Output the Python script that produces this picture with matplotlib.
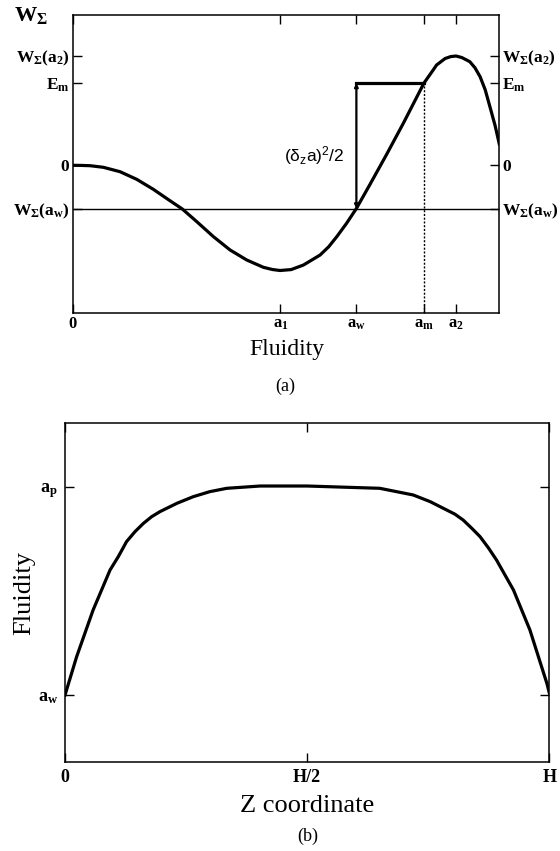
import matplotlib
matplotlib.use("Agg")
import matplotlib.pyplot as plt

plt.rcParams['font.family'] = ['Liberation Serif', 'DejaVu Serif']
plt.rcParams['mathtext.fontset'] = 'custom'
plt.rcParams['mathtext.rm'] = 'Liberation Serif'
plt.rcParams['mathtext.it'] = 'Liberation Serif'
plt.rcParams['mathtext.bf'] = 'Liberation Serif:bold'
plt.rcParams['mathtext.sf'] = 'Liberation Sans'

# (a) free energy W_sigma vs fluidity
a_vals = [0.0, 0.02, 0.041, 0.072, 0.111, 0.150, 0.189, 0.228, 0.257, 0.291,
          0.330, 0.369, 0.408, 0.447, 0.468, 0.486, 0.512, 0.541, 0.580, 0.600,
          0.619, 0.642, 0.665, 0.697, 0.736, 0.775, 0.8235, 0.845, 0.853, 0.873,
          0.886, 0.8985, 0.912, 0.931, 0.943, 0.955, 0.967, 0.978, 0.99, 1.0]
w_vals = [0.0, -0.001, -0.004, -0.02, -0.064, -0.14, -0.24, -0.354, -0.437, -0.564,
          -0.714, -0.847, -0.947, -1.02, -1.042, -1.052, -1.043, -0.997, -0.897, -0.815,
          -0.714, -0.58, -0.432, -0.19, 0.11, 0.42, 0.823, 0.953, 1.003, 1.068,
          1.087, 1.093, 1.078, 1.036, 0.975, 0.886, 0.755, 0.586, 0.40, 0.213]

a1, aw, am, a2 = 0.487, 0.665, 0.8235, 0.8985
W_aw, E_m, W_a2 = -0.432, 0.823, 1.093

xticks_a = [0, a1, aw, am, a2]
xlabels_a = ['0', r'$\mathbf{a_1}$', r'$\mathbf{a_w}$', r'$\mathbf{a_m}$', r'$\mathbf{a_2}$']
yticks_a = [W_aw, 0, E_m, W_a2]
ylabels_a = [r'$\mathbf{W_{\Sigma}(a_w)}$', r'$\mathbf{0}$', r'$\mathbf{E_m}$',
             r'$\mathbf{W_{\Sigma}(a_2)}$']

# (b) fluidity profile across the channel
z_vals = [0.0, 0.024, 0.058, 0.093, 0.110, 0.127, 0.1445, 0.162, 0.179, 0.196,
          0.231, 0.265, 0.299, 0.334, 0.403, 0.5, 0.650, 0.719, 0.754, 0.788,
          0.805, 0.822, 0.840, 0.857, 0.874, 0.891, 0.926, 0.960, 0.995, 1.0]
f_vals = [0.0, 0.184, 0.408, 0.600, 0.664, 0.736, 0.784, 0.824, 0.856, 0.880,
          0.920, 0.952, 0.976, 0.992, 1.003, 1.003, 0.992, 0.960, 0.928, 0.888,
          0.868, 0.840, 0.800, 0.760, 0.707, 0.648, 0.504, 0.312, 0.056, 0.01]

xticks_b = [0, 0.5, 1]
xlabels_b = ['0', 'H/2', 'H']
yticks_b = [0, 1]
ylabels_b = [r'$\mathbf{a_w}$', r'$\mathbf{a_p}$']

fig = plt.figure(figsize=(5.6, 8.51), dpi=100)

# ---- panel (a)
ax = fig.add_axes([0.1298, 0.6322, 0.7618, 0.3498])
ax.plot(a_vals, w_vals, color='black', lw=2.3, solid_joinstyle='round')
ax.axhline(W_aw, color='black', lw=1.0)
ax.plot([aw, am], [E_m, E_m], color='black', lw=2.3)
ax.plot([am, am], [-1.48, E_m], color='black', lw=1.0, ls=(0, (1.5, 1.2)))
ax.annotate('', xy=(aw, E_m), xytext=(aw, W_aw),
            arrowprops=dict(arrowstyle='<|-|>', color='black', lw=1.6,
                            mutation_scale=5, shrinkA=0, shrinkB=0))
ax.text(0.638, 0.093, r'$\mathsf{(\delta_z a)^2/2}$', fontsize=12.5,
        ha='right', va='center')
ax.set_xlim(0, 1)
ax.set_ylim(-1.477, 1.50)
ax.set_xticks(xticks_a)
ax.set_xticklabels(xlabels_a, fontsize=12, fontweight='bold')
ax.set_yticks(yticks_a)
ax.set_yticklabels(ylabels_a, fontsize=12.5)
ax.tick_params(direction='in', length=6.5, width=1, top=True, right=True,
               labelright=True, pad=2)
for s in ax.spines.values():
    s.set_linewidth(1.1)
fig.text(0.025, 0.982, r'$\mathbf{W_{\Sigma}}$', fontsize=16, va='center')
fig.text(0.512, 1 - 350 / 851, 'Fluidity', fontsize=17, ha='center', va='center')
fig.text(0.509, 1 - 386 / 851, '(a)', fontsize=13, ha='center', va='center')

# ---- panel (b)
bx = fig.add_axes([0.1161, 0.1049, 0.8648, 0.3977])
bx.plot(z_vals, f_vals, color='black', lw=2.3, solid_joinstyle='round')
bx.set_xlim(0, 1)
bx.set_ylim(-0.32, 1.304)
bx.set_xticks(xticks_b)
bx.set_xticklabels(xlabels_b, fontsize=13, fontweight='bold')
bx.set_yticks(yticks_b)
bx.set_yticklabels(ylabels_b, fontsize=13)
bx.tick_params(direction='in', length=6.5, width=1, top=True, right=True, pad=5)
for s in bx.spines.values():
    s.set_linewidth(1.1)
fig.text(0.043, 1 - 593 / 851, 'Fluidity', fontsize=19, rotation=90,
         ha='center', va='center')
fig.text(0.549, 1 - 806 / 851, 'Z coordinate', fontsize=19, ha='center', va='center')
fig.text(0.549, 1 - 836 / 851, '(b)', fontsize=13, ha='center', va='center')

fig.savefig('out.png', dpi=100)
